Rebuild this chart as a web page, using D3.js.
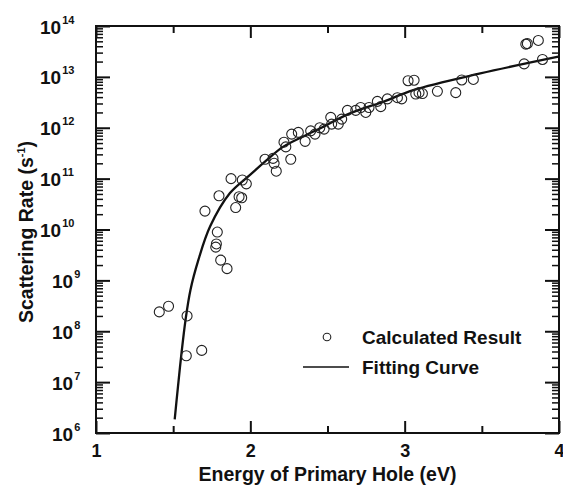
<!DOCTYPE html>
<html><head><meta charset="utf-8">
<script src="https://cdn.jsdelivr.net/npm/d3@7"></script>
<style>
html,body{margin:0;padding:0;background:#fff;}
svg{display:block;}
text{font-family:"Liberation Sans",Arial,Helvetica,sans-serif;font-weight:bold;fill:#111;}
</style></head><body>
<svg id="chart" width="563" height="487"></svg>
<script>
// ---- data ----
const energy = [1.41,1.47,1.59,1.585,1.685,1.706,1.797,1.875,1.948,1.974,1.944,1.905,1.927,1.786,1.780,1.776,1.808,1.849,
  2.095,2.147,2.154,2.168,2.262,2.218,2.23,2.268,2.311,2.355,2.391,2.419,2.45,2.478,2.521,2.527,2.57,2.592,2.629,2.683,
  2.715,2.748,2.769,2.823,2.845,2.888,2.953,2.981,3.022,3.061,3.072,3.093,3.115,3.212,3.331,3.370,3.445,3.774,3.785,3.795,3.866,3.893];
const rate = [2.4e8,3.1e8,2.0e8,3.3e7,4.2e7,2.3e10,4.6e10,1.0e11,9.4e10,7.9e10,4.2e10,2.7e10,4.4e10,8.9e9,5.2e9,4.5e9,2.5e9,1.7e9,
  2.4e11,2.5e11,2.0e11,1.4e11,2.4e11,5.2e11,4.2e11,7.5e11,8.1e11,5.4e11,8.7e11,7.5e11,1.0e12,9.4e11,1.6e12,1.18e12,1.18e12,1.48e12,2.2e12,2.2e12,
  2.5e12,2.0e12,2.5e12,3.3e12,2.6e12,3.7e12,3.9e12,3.7e12,8.4e12,8.6e12,4.6e12,4.9e12,4.7e12,5.2e12,4.9e12,8.7e12,8.9e12,1.8e13,4.4e13,4.5e13,5.2e13,2.2e13];
const fitEnergy = [1.510,1.531,1.554,1.580,1.612,1.663,1.739,1.868,1.998,2.106,2.214,2.430,2.646,2.862,3.056,3.490,3.996];
const fitRate   = [1.86e6,8.1e6,3.7e7,1.66e8,6.5e8,2.5e9,1.14e10,5.2e10,1.18e11,2.3e11,4.25e11,9.0e11,1.92e12,3.25e12,5.5e12,1.17e13,2.5e13];
const xTickValues = [1,2,3,4];
const xHalfTicks = [1.5,2.5,3.5];
const yTickExponents = [6,7,8,9,10,11,12,13,14];
const xLabel = "Energy of Primary Hole (eV)";
const yLabelParts = ["Scattering Rate (s","-1",")"];
const legendLabels = ["Calculated Result","Fitting Curve"];

// ---- chart ----
const svg = d3.select("#chart");
const L = 96, R = 559, T = 26, B = 433;
const x = d3.scaleLinear().domain([1,4]).range([L,R]);
const y = d3.scaleLog().domain([1e6,1e14]).range([B,T]);
const decades = yTickExponents.map(e => Math.pow(10,e));
const minors = y.ticks().filter(v => !decades.some(d => Math.abs(v/d-1) < 1e-9));
const ink = "#111";

function styleAxis(g, w){
  g.select(".domain").remove();
  g.selectAll(".tick line").attr("stroke", ink).attr("stroke-width", w);
}
// y axes (inward ticks)
svg.append("g").attr("transform",`translate(${L},0)`)
  .call(d3.axisRight(y).tickValues(decades).tickSize(14).tickFormat("")).call(g=>styleAxis(g,2));
svg.append("g").attr("transform",`translate(${L},0)`)
  .call(d3.axisRight(y).tickValues(minors).tickSize(7).tickFormat("")).call(g=>styleAxis(g,1.5));
svg.append("g").attr("transform",`translate(${R},0)`)
  .call(d3.axisLeft(y).tickValues(decades).tickSize(14).tickFormat("")).call(g=>styleAxis(g,2));
svg.append("g").attr("transform",`translate(${R},0)`)
  .call(d3.axisLeft(y).tickValues(minors).tickSize(7).tickFormat("")).call(g=>styleAxis(g,1.5));
// x axes (inward ticks)
svg.append("g").attr("transform",`translate(0,${B})`)
  .call(d3.axisTop(x).tickValues(xTickValues).tickSize(12).tickFormat("")).call(g=>styleAxis(g,2));
svg.append("g").attr("transform",`translate(0,${B})`)
  .call(d3.axisTop(x).tickValues(xHalfTicks).tickSize(7).tickFormat("")).call(g=>styleAxis(g,2));
svg.append("g").attr("transform",`translate(0,${T})`)
  .call(d3.axisBottom(x).tickValues(xTickValues).tickSize(12).tickFormat("")).call(g=>styleAxis(g,2));
svg.append("g").attr("transform",`translate(0,${T})`)
  .call(d3.axisBottom(x).tickValues(xHalfTicks).tickSize(7).tickFormat("")).call(g=>styleAxis(g,2));

// frame
svg.append("rect").attr("x",L).attr("y",T).attr("width",R-L).attr("height",B-T)
  .attr("fill","none").attr("stroke",ink).attr("stroke-width",2);

// x tick labels
svg.append("g").attr("transform",`translate(0,${B})`)
  .call(d3.axisBottom(x).tickValues(xTickValues).tickSize(0).tickPadding(11).tickFormat(d3.format("d")))
  .call(g=>{ g.select(".domain").remove(); g.selectAll("text").style("font-size","18px"); });

// y tick labels: 10^n
const yl = svg.append("g").attr("transform",`translate(${L},0)`)
  .call(d3.axisLeft(y).tickValues(decades).tickSize(0).tickFormat(""));
yl.select(".domain").remove();
yl.selectAll(".tick").each(function(d){
  const e = Math.round(Math.log10(d));
  const t = d3.select(this).append("text")
    .attr("x", e >= 10 ? -56 : -44).attr("y", 7).attr("text-anchor","start")
    .style("font-size","19px");
  t.append("tspan").text("10");
  t.append("tspan").attr("dx",1).attr("dy",-10).style("font-size","11px").text(String(e));
});

// axis titles
svg.append("text").attr("x",(L+R)/2).attr("y",481).attr("text-anchor","middle")
  .style("font-size","19.5px").text(xLabel);
const yt = svg.append("text").attr("transform","rotate(-90)").attr("x",-232).attr("y",33)
  .attr("text-anchor","middle").style("font-size","19.5px");
yt.append("tspan").text(yLabelParts[0]);
yt.append("tspan").attr("dy",-8).style("font-size","11px").text(yLabelParts[1]);
yt.append("tspan").attr("dy",8).text(yLabelParts[2]);

// fitting curve
svg.append("path")
  .datum(fitEnergy.map((e,i)=>[e,fitRate[i]]))
  .attr("fill","none").attr("stroke",ink).attr("stroke-width",2.3)
  .attr("d", d3.line().x(d=>x(d[0])).y(d=>y(d[1])).curve(d3.curveCatmullRom.alpha(0.5)));

// data points
svg.append("g").selectAll("circle")
  .data(energy.map((e,i)=>[e,rate[i]]))
  .join("circle")
  .attr("cx",d=>x(d[0])).attr("cy",d=>y(d[1])).attr("r",5)
  .attr("fill","none").attr("stroke","#222").attr("stroke-width",1.1);

// legend
const lg = svg.append("g");
lg.append("circle").attr("cx",327).attr("cy",337).attr("r",3.8)
  .attr("fill","none").attr("stroke","#222").attr("stroke-width",1.1);
lg.append("text").attr("x",362).attr("y",343.5).style("font-size","19px").text(legendLabels[0]);
lg.append("line").attr("x1",303).attr("x2",349).attr("y1",367).attr("y2",367)
  .attr("stroke",ink).attr("stroke-width",1.6);
lg.append("text").attr("x",362).attr("y",373.5).style("font-size","19px").text(legendLabels[1]);
</script>
</body></html>
